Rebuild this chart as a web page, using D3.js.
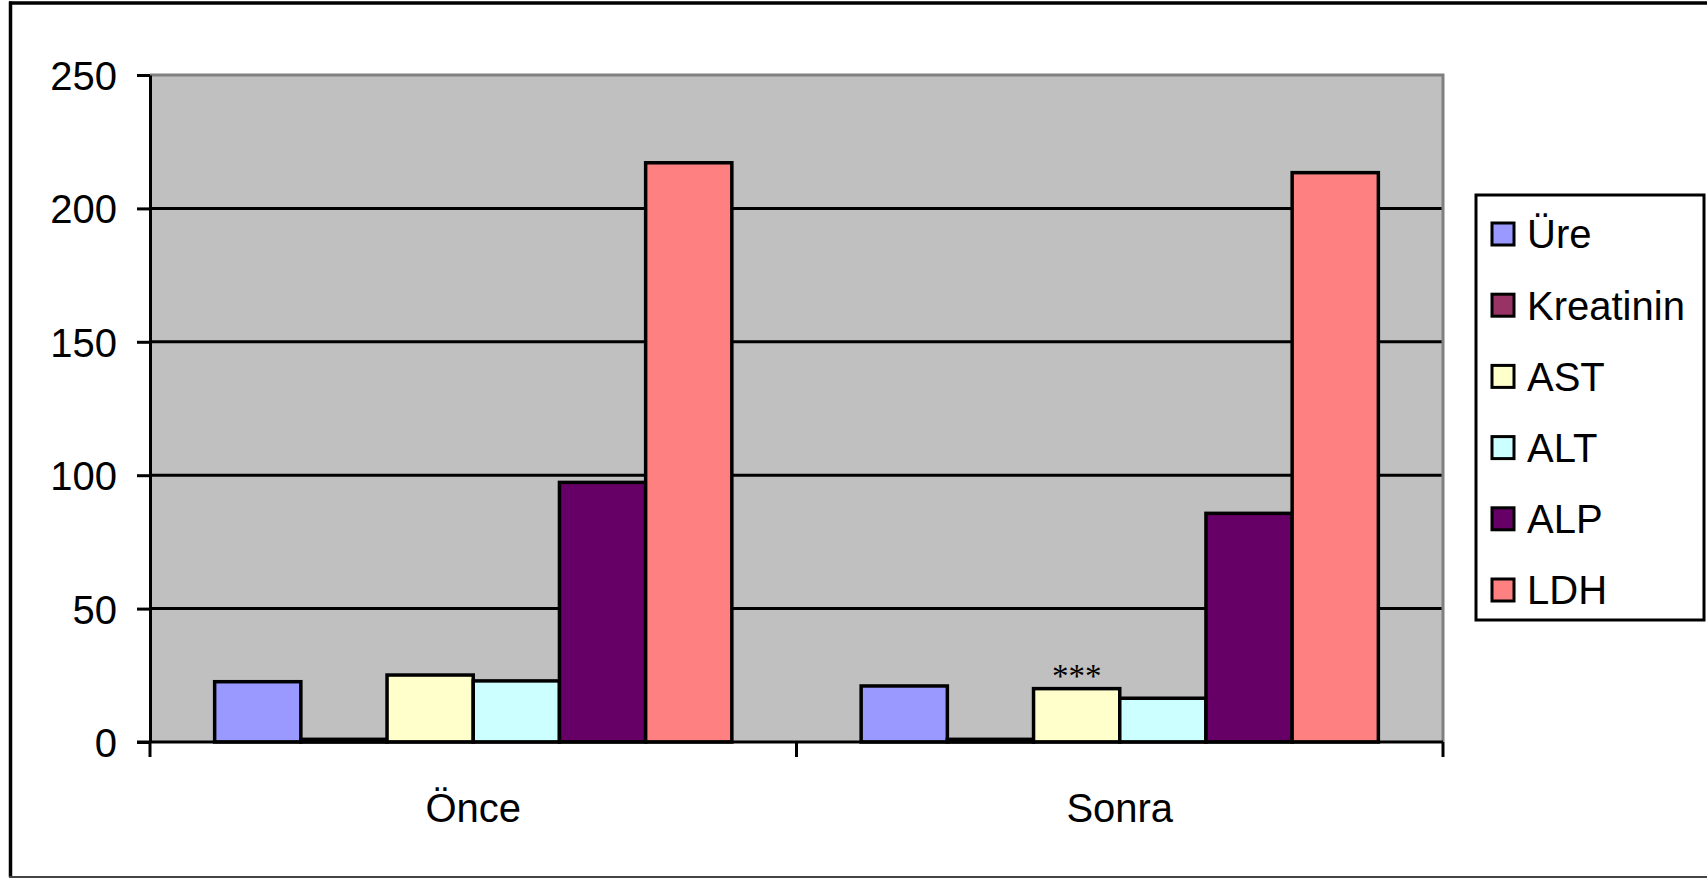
<!DOCTYPE html>
<html lang="tr">
<head>
<meta charset="UTF-8">
<title>Önce / Sonra</title>
<style>
	body{ margin:0; background:#fff; }
	svg text{ font-family:"Liberation Sans", Arial, sans-serif; fill:#000; }
	.axis path, .axis line{ fill:none; stroke:#000; stroke-width:3; }
	.axis text{ font-size:40px; }
</style>
</head>
<body>
<script src="https://d3js.org/d3.v7.min.js"></script>
<script>
// veriler
var categories = ['Önce', 'Sonra'];
var series = ['Üre', 'Kreatinin', 'AST', 'ALT', 'ALP', 'LDH'];
var colors = ['#9999ff', '#993366', '#ffffcc', '#ccffff', '#660066', '#ff8080'];
var onceValues  = [22.6, 1.0, 25.1, 22.9, 97.3, 217.1];
var sonraValues = [21.0, 1.0, 20.0, 16.4, 85.7, 213.4];
var yTicks = [0, 50, 100, 150, 200, 250];
// anlamlılık işareti: Sonra, AST
var marks = [{cat:'Sonra', ser:'AST', text:'***'}];

var width = 1707, height = 878;
var plotLeft = 150, plotRight = 1443, plotTop = 75, plotBottom = 742;

var rows = categories.map(function(c, i){
	var vals = i === 0 ? onceValues : sonraValues;
	return { cat:c, vals: series.map(function(s, j){ return {ser:s, v:vals[j], color:colors[j]}; }) };
});

var svg = d3.select('body').append('svg')
	.attr('width', width).attr('height', height);

// dış çerçeve
svg.append('line').attr('x1',10.5).attr('x2',10.5).attr('y1',1.5).attr('y2',877)
	.attr('stroke','#000').attr('stroke-width',3.5);
svg.append('line').attr('x1',9).attr('x2',width).attr('y1',3).attr('y2',3)
	.attr('stroke','#000').attr('stroke-width',3.5);
svg.append('line').attr('x1',9).attr('x2',width).attr('y1',877).attr('y2',877)
	.attr('stroke','#444').attr('stroke-width',2);

var x0 = d3.scaleBand().domain(categories).range([plotLeft, plotRight]).padding(0);
var x1 = d3.scaleBand().domain(series).range([0, x0.bandwidth()]).paddingInner(0).paddingOuter(0.75);
var y = d3.scaleLinear().domain([0, 250]).range([plotBottom, plotTop]);

// çizim alanı
svg.append('rect').attr('x', plotLeft).attr('y', plotTop)
	.attr('width', plotRight - plotLeft).attr('height', plotBottom - plotTop)
	.attr('fill', '#c0c0c0');

// ızgara çizgileri
svg.selectAll('line.grid')
	.data(yTicks.filter(function(d){ return d > 0 && d < 250; }))
	.enter().append('line').attr('class','grid')
	.attr('x1', plotLeft).attr('x2', plotRight)
	.attr('y1', function(d){ return y(d); }).attr('y2', function(d){ return y(d); })
	.attr('stroke', '#000').attr('stroke-width', 3);

// üst ve sağ kenar (gri)
svg.append('path')
	.attr('d', 'M' + plotLeft + ',' + plotTop + 'H' + plotRight + 'V' + plotBottom)
	.attr('fill','none').attr('stroke','#808080').attr('stroke-width',3);

// çubuklar
var groups = svg.selectAll('g.grp').data(rows).enter().append('g')
	.attr('class','grp')
	.attr('transform', function(d){ return 'translate(' + x0(d.cat) + ',0)'; });

groups.selectAll('rect').data(function(d){ return d.vals; }).enter().append('rect')
	.attr('x', function(d){ return x1(d.ser); })
	.attr('y', function(d){ return y(d.v); })
	.attr('width', x1.bandwidth())
	.attr('height', function(d){ return y(0) - y(d.v); })
	.attr('fill', function(d){ return d.color; })
	.attr('stroke', '#000').attr('stroke-width', 3.5);

// işaretler
svg.selectAll('text.mark').data(marks).enter().append('text')
	.attr('class','mark')
	.attr('x', function(d){ return x0(d.cat) + x1(d.ser) + x1.bandwidth() / 2; })
	.attr('y', function(d){
		var v = (d.cat === 'Önce' ? onceValues : sonraValues)[series.indexOf(d.ser)];
		return y(v) - 2;
	})
	.attr('text-anchor','middle')
	.style('font-family','"Liberation Serif", "Times New Roman", serif')
	.style('font-size','33px')
	.text(function(d){ return d.text; });

// y ekseni
var yAxis = d3.axisLeft(y).tickValues(yTicks).tickSizeInner(13).tickSizeOuter(0).tickPadding(20);
svg.append('g').attr('class','axis').attr('transform','translate(' + plotLeft + ',0)').call(yAxis)
	.selectAll('text').attr('dy','0.36em');

// x ekseni
var xEdge = d3.scaleLinear().domain([0, categories.length]).range([plotLeft, plotRight]);
var xAxisG = svg.append('g').attr('class','axis').attr('transform','translate(0,' + plotBottom + ')');
xAxisG.append('line').attr('x1', plotLeft - 13).attr('x2', plotRight).attr('y1', 0).attr('y2', 0);
xAxisG.selectAll('line.tk').data(d3.range(categories.length + 1)).enter().append('line')
	.attr('class','tk')
	.attr('x1', function(d){ return xEdge(d); }).attr('x2', function(d){ return xEdge(d); })
	.attr('y1', 0).attr('y2', 15);
xAxisG.selectAll('text').data(categories).enter().append('text')
	.attr('x', function(d){ return x0(d) + x0.bandwidth() / 2; })
	.attr('y', 80)
	.attr('text-anchor','middle')
	.text(function(d){ return d; });

// lejant
var lg = svg.append('g').attr('transform','translate(1476,195)');
lg.append('rect').attr('x',0).attr('y',0).attr('width',228).attr('height',425)
	.attr('fill','#fff').attr('stroke','#000').attr('stroke-width',3);
var items = lg.selectAll('g.it').data(series).enter().append('g').attr('class','it')
	.attr('transform', function(d, i){ return 'translate(0,' + (39 + i * 71.2) + ')'; });
items.append('rect').attr('x',16).attr('y',-11).attr('width',22).attr('height',22)
	.attr('fill', function(d, i){ return colors[i]; })
	.attr('stroke','#000').attr('stroke-width',3);
items.append('text').attr('x',51).attr('y',0).attr('dy','0.36em')
	.style('font-size','40px')
	.text(function(d){ return d; });
</script>
</body>
</html>
